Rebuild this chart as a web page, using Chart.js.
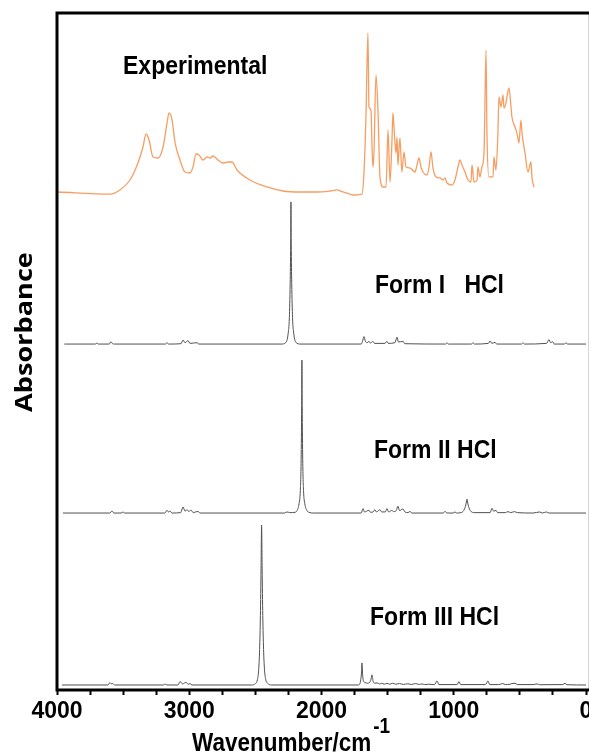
<!DOCTYPE html>
<html><head><meta charset="utf-8">
<script src="https://cdn.jsdelivr.net/npm/chart.js@4"></script>
<style>html,body{margin:0;padding:0;background:#fff;overflow:hidden}#wrap{width:620px;height:755px}</style>
</head><body><div id="wrap"><canvas id="c" width="620" height="755"></canvas></div>
<script>
const xTickLabels = [4000, 3000, 2000, 1000, 0];
const panelLabels = ['Experimental', 'Form I   HCl', 'Form II HCl', 'Form III HCl'];
const labelAnchors = [[3501, 90.99], [1596, 58.64], [1603, 34.27], [1633, 9.6]];

const experimental = [
[3992,73.56],[3599,73.26],[3524,73.86],[3448,75.33],[3388,77.84],[3350,80.21],[3327,82.13],[3304,81.24],[3274,78.73],[3236,78.58],[3198,80.21],[3168,83.75],[3153,85.23],[3130,84.19],[3107,80.80],[3070,78.29],[3032,76.51],[2994,76.37],[2972,77.25],[2949,79.17],[2926,79.03],[2896,78.29],[2866,78.73],[2843,78.58],[2820,78.88],[2798,78.58],[2783,78.29],[2745,77.84],[2707,77.99],[2677,77.99],[2639,76.81],[2541,75.33],[2412,74.30],[2291,73.71],[2163,73.56],[2034,73.56],[1936,73.71],[1884,73.86],[1838,73.56],[1807,73.41],[1762,73.12],[1694,73.26],[1679,76.37],[1664,84.64],[1649,97.05],[1641,86.12],[1626,85.67],[1618,80.21],[1611,77.25],[1603,79.47],[1588,90.84],[1573,85.67],[1558,75.78],[1535,74.30],[1512,74.30],[1497,82.72],[1482,75.04],[1467,81.24],[1460,85.23],[1452,83.16],[1437,79.32],[1429,81.68],[1422,77.55],[1407,81.54],[1392,76.51],[1376,79.47],[1361,77.25],[1331,77.10],[1293,76.51],[1278,77.55],[1263,78.58],[1248,77.25],[1233,76.51],[1202,76.07],[1187,77.25],[1172,79.47],[1157,77.10],[1134,75.78],[1104,75.63],[1081,75.33],[1066,75.63],[1051,74.89],[1013,74.59],[991,75.33],[968,77.25],[953,78.29],[938,77.55],[915,76.51],[892,75.33],[870,75.04],[862,77.55],[847,75.04],[824,75.33],[817,77.25],[802,75.78],[787,77.25],[771,79.47],[756,94.53],[749,82.27],[734,75.78],[703,75.78],[696,78.73],[681,76.81],[666,82.27],[658,87.59],[643,86.12],[628,87.89],[620,85.97],[605,86.71],[598,87.59],[582,88.92],[567,86.12],[560,84.64],[537,83.16],[522,82.27],[507,80.80],[492,84.19],[484,82.27],[461,79.32],[439,76.51],[416,77.99],[408,75.63],[393,74.30]
];

const formI = [
[3945,51.1],[3710,51.1],[3698,51.25],[3688,51.1],[3605,51.1],[3592,51.45],[3580,51.15],[3565,51.1],[3180,51.1],[3168,51.3],[3156,51.1],[3062,51.15],[3047,51.7],[3032,51.3],[3009,51.6],[2995,51.2],[2941,51.3],[2928,51.1],[2300,51.1],[2275,51.25],[2262,51.6],[2252,52.7],[2243,55],[2237,60],[2233,66],[2231,72.1],[2229,66],[2225,60],[2219,55],[2210,52.7],[2200,51.6],[2187,51.25],[2165,51.1],[1700,51.1],[1690,51.5],[1679,52.2],[1668,51.5],[1655,51.3],[1641,51.5],[1630,51.25],[1611,51.5],[1600,51.2],[1520,51.2],[1505,51.5],[1495,51.2],[1445,51.3],[1429,52.1],[1418,51.4],[1384,51.5],[1370,51.15],[1062,51.1],[1051,51.3],[1040,51.1],[866,51.1],[855,51.3],[844,51.1],[738,51.2],[726,51.55],[712,51.2],[688,51.35],[675,51.1],[488,51.1],[477,51.3],[466,51.1],[298,51.2],[280,51.75],[268,51.3],[252,51.45],[240,51.1],[162,51.1],[152,51.3],[142,51.1],[0,51.1]
];

const formII = [
[3955,26.14],[3600,26.14],[3584,26.44],[3570,26.14],[3515,26.14],[3501,26.3],[3490,26.14],[3185,26.14],[3168,26.54],[3157,26.3],[3146,26.44],[3130,26.14],[3065,26.2],[3047,27.04],[3032,26.4],[3017,26.64],[3003,26.35],[2987,26.59],[2970,26.2],[2934,26.39],[2920,26.14],[2280,26.14],[2261,26.3],[2240,26.2],[2200,26.25],[2185,26.5],[2170,27.5],[2160,29.5],[2154,34],[2150,42],[2148,48.75],[2146,42],[2142,34],[2136,29.5],[2126,27.5],[2110,26.5],[2095,26.25],[2060,26.14],[1700,26.14],[1686,26.79],[1675,26.3],[1641,26.54],[1630,26.25],[1610,26.3],[1596,26.64],[1585,26.3],[1558,26.64],[1545,26.3],[1518,26.3],[1505,26.79],[1492,26.3],[1467,26.54],[1455,26.35],[1435,26.5],[1422,27.14],[1410,26.5],[1384,26.74],[1370,26.3],[1345,26.2],[1331,26.39],[1318,26.14],[1080,26.14],[1066,26.39],[1052,26.14],[1005,26.14],[991,26.3],[978,26.14],[945,26.2],[925,26.5],[912,27.1],[906,27.6],[900,28.2],[894,27.6],[888,27.1],[875,26.5],[860,26.25],[840,26.2],[725,26.2],[711,26.84],[698,26.4],[681,26.54],[668,26.2],[610,26.2],[590,26.35],[570,26.2],[540,26.35],[520,26.2],[400,26.14],[350,26.3],[330,26.14],[300,26.3],[280,26.14],[0,26.14]
];

const formIII = [
[3962,0.74],[3615,0.74],[3599,1.09],[3590,0.9],[3580,0.95],[3565,0.74],[3195,0.74],[3183,0.89],[3170,0.74],[3085,0.74],[3070,1.24],[3050,0.9],[3025,1.14],[3008,0.85],[2994,0.95],[2980,0.74],[2530,0.74],[2500,0.95],[2485,1.5],[2475,3],[2468,6],[2462,11],[2457,18],[2453,24.37],[2449,18],[2444,11],[2438,6],[2431,3],[2421,1.5],[2405,0.95],[2380,0.74],[1720,0.74],[1705,1.3],[1698,2.5],[1694,4.0],[1689,2.2],[1682,1.3],[1672,1.1],[1650,1.0],[1628,1.4],[1618,2.24],[1610,1.3],[1598,1.0],[1580,1.05],[1560,0.88],[1545,1.0],[1525,0.85],[1505,1.0],[1485,0.85],[1462,1.0],[1440,0.85],[1410,0.95],[1380,0.82],[1350,0.92],[1318,0.82],[1290,0.95],[1260,0.82],[1240,0.9],[1220,0.8],[1190,0.85],[1145,0.8],[1127,1.35],[1112,0.8],[975,0.8],[960,1.24],[948,0.8],[760,0.8],[741,1.34],[728,0.8],[660,0.8],[630,0.95],[610,0.8],[575,0.85],[560,0.95],[537,1.0],[520,0.8],[400,0.8],[370,0.9],[350,0.78],[175,0.8],[159,1.0],[145,0.78],[0,0.74]
];

const toXY = arr => arr.map(p => ({x: p[0], y: p[1]}));
const grayLine = '#505050';

const decor = {
  id: 'decor',
  afterDraw(chart) {
    const {ctx, chartArea: a, scales: {x, y}} = chart;
    ctx.save();
    // thin right edge
    ctx.strokeStyle = '#d4d4d4'; ctx.lineWidth = 1;
    ctx.beginPath(); ctx.moveTo(a.right + 2.5, a.top); ctx.lineTo(a.right + 2.5, a.bottom); ctx.stroke();
    // heavy frame
    ctx.strokeStyle = '#000'; ctx.lineWidth = 3; ctx.lineJoin = 'miter';
    ctx.beginPath();
    ctx.moveTo(chart.width, a.top); ctx.lineTo(a.left, a.top);
    ctx.lineTo(a.left, a.bottom); ctx.lineTo(chart.width, a.bottom);
    ctx.stroke();
    // panel labels
    ctx.fillStyle = '#000';
    ctx.textBaseline = 'alphabetic'; ctx.textAlign = 'left';
    ctx.font = 'bold 23px "Liberation Sans", Arial, sans-serif';
    panelLabels.forEach((t, i) => {
      const px = x.getPixelForValue(labelAnchors[i][0]);
      const py = y.getPixelForValue(labelAnchors[i][1]);
      ctx.save(); ctx.translate(px, py); ctx.scale(1, 1.15); ctx.fillText(t, 0, 0); ctx.restore();
    });
    // x title with superscript
    ctx.save();
    ctx.translate(192, 751); ctx.scale(1, 1.17);
    ctx.font = 'bold 22.5px "Liberation Sans", Arial, sans-serif';
    const main = 'Wavenumber/cm';
    ctx.fillText(main, 0, 0);
    const w = ctx.measureText(main).width;
    ctx.font = 'bold 19px "Liberation Sans", Arial, sans-serif';
    ctx.fillText('-1', w + 2, -15);
    ctx.restore();
    // y title
    ctx.save();
    ctx.translate(32, 332); ctx.scale(1, 1.13); ctx.rotate(-Math.PI / 2);
    ctx.textAlign = 'center';
    ctx.font = 'bold 24px "Open Sans", sans-serif';
    ctx.fillText('Absorbance', 0, 0);
    ctx.restore();
    ctx.restore();
  }
};

const ds = (data, color, width) => ({
  data: toXY(data), borderColor: color, borderWidth: width, pointRadius: 0,
  cubicInterpolationMode: 'monotone', fill: false
});

new Chart(document.getElementById('c'), {
  type: 'line',
  data: {
    datasets: [
      ds(experimental, 'rgb(246,158,98)', 1.3),
      ds(formI, grayLine, 1),
      ds(formII, grayLine, 1),
      ds(formIII, grayLine, 1)
    ]
  },
  options: {
    responsive: false, animation: false, devicePixelRatio: 1,
    layout: {padding: {left: 57, right: 34, top: 13, bottom: 0}},
    plugins: {legend: {display: false}, tooltip: {enabled: false}},
    scales: {
      x: {
        type: 'linear', reverse: true, min: 0, max: 4000,
        afterFit: s => { s.height = 65; },
        border: {display: false},
        grid: {display: true, drawOnChartArea: false, drawTicks: true, tickLength: 5, tickWidth: 2, tickColor: '#000'},
        ticks: {
          stepSize: 250, autoSkip: false, maxRotation: 0, padding: 3, color: '#000',
          font: {family: '"Liberation Sans", Arial, sans-serif', weight: 'bold', size: 23},
          callback: v => xTickLabels.includes(v) ? String(v) : ''
        }
      },
      y: {display: false, min: 0, max: 100}
    }
  },
  plugins: [decor]
});
</script>
</body></html>
